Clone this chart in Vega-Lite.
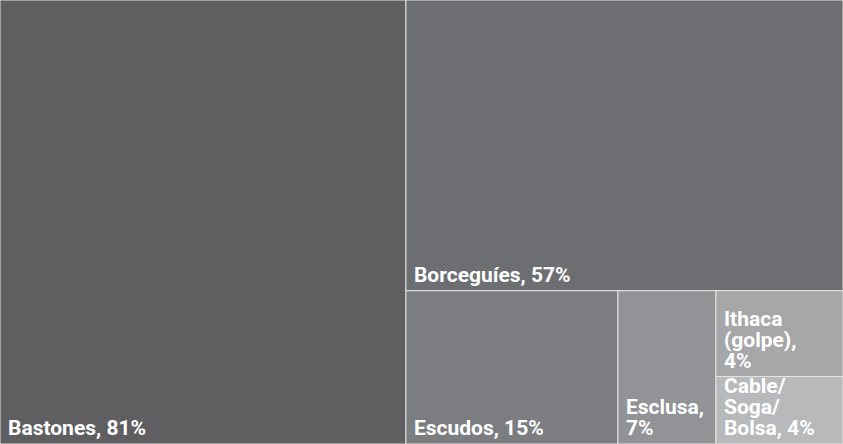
{
  "$schema": "https://vega.github.io/schema/vega-lite/v6.json",
  "width": 843,
  "height": 444,
  "autosize": {"type": "none"},
  "padding": 0,
  "background": "#ffffff",
  "config": {"view": {"stroke": null}},
  "data": {
    "values": [
      {"name": "Bastones", "label": "Bastones, 81%", "size": 81, "col": 1, "band": 1, "sub": 1, "cell": 1},
      {"name": "Borceguíes", "label": "Borceguíes, 57%", "size": 57.1, "col": 2, "band": 1, "sub": 1, "cell": 1},
      {"name": "Escudos", "label": "Escudos, 15%", "size": 14.6, "col": 2, "band": 2, "sub": 1, "cell": 1},
      {"name": "Esclusa", "label": "Esclusa,|7%", "size": 6.75, "col": 2, "band": 2, "sub": 2, "cell": 1},
      {"name": "Ithaca (golpe)", "label": "Ithaca|(golpe),|4%", "size": 4.9, "col": 2, "band": 2, "sub": 3, "cell": 1},
      {"name": "Cable/Soga/Bolsa", "label": "Cable/|Soga/|Bolsa, 4%", "size": 3.85, "col": 2, "band": 2, "sub": 3, "cell": 2}
    ]
  },
  "transform": [
    {"joinaggregate": [{"op": "sum", "field": "size", "as": "total"}]},
    {"joinaggregate": [{"op": "sum", "field": "size", "as": "colsum"}], "groupby": ["col"]},
    {"joinaggregate": [{"op": "sum", "field": "size", "as": "bandsum"}], "groupby": ["col", "band"]},
    {"joinaggregate": [{"op": "sum", "field": "size", "as": "subsum"}], "groupby": ["col", "band", "sub"]},
    {"stack": "size", "groupby": [], "sort": [{"field": "col", "order": "ascending"}, {"field": "band", "order": "ascending"}, {"field": "sub", "order": "ascending"}, {"field": "cell", "order": "ascending"}], "as": ["s0", "s1"]},
    {"joinaggregate": [{"op": "min", "field": "s0", "as": "colstart"}], "groupby": ["col"]},
    {"stack": "size", "groupby": ["col"], "sort": [{"field": "band", "order": "ascending"}, {"field": "sub", "order": "ascending"}, {"field": "cell", "order": "ascending"}], "as": ["b0", "b1"]},
    {"joinaggregate": [{"op": "min", "field": "b0", "as": "bandstart"}], "groupby": ["col", "band"]},
    {"stack": "size", "groupby": ["col", "band"], "sort": [{"field": "sub", "order": "ascending"}, {"field": "cell", "order": "ascending"}], "as": ["c0", "c1"]},
    {"joinaggregate": [{"op": "min", "field": "c0", "as": "substart"}], "groupby": ["col", "band", "sub"]},
    {"stack": "size", "groupby": ["col", "band", "sub"], "sort": [{"field": "cell", "order": "ascending"}], "as": ["d0", "d1"]},
    {"calculate": "(datum.colstart + datum.substart / datum.bandsum * datum.colsum) / datum.total", "as": "x0"},
    {"calculate": "(datum.colstart + (datum.substart + datum.subsum) / datum.bandsum * datum.colsum) / datum.total", "as": "x1"},
    {"calculate": "(datum.bandstart + datum.d0 / datum.subsum * datum.bandsum) / datum.colsum", "as": "y0"},
    {"calculate": "(datum.bandstart + datum.d1 / datum.subsum * datum.bandsum) / datum.colsum", "as": "y1"},
    {"calculate": "join(reverse(split(datum.label, '|')), '|')", "as": "revlabel"}
  ],
  "encoding": {
    "x": {"field": "x0", "type": "quantitative", "axis": null, "scale": {"domain": [0, 1], "nice": false, "zero": false}},
    "y": {"field": "y0", "type": "quantitative", "axis": null, "scale": {"domain": [0, 1], "nice": false, "zero": false, "reverse": true}}
  },
  "layer": [
    {
      "mark": {"type": "rect", "stroke": "#e4e4e4", "strokeWidth": 1},
      "encoding": {
        "x2": {"field": "x1"},
        "y2": {"field": "y1"},
        "color": {
          "field": "name",
          "type": "nominal",
          "legend": null,
          "scale": {
            "domain": ["Bastones", "Borceguíes", "Escudos", "Esclusa", "Ithaca (golpe)", "Cable/Soga/Bolsa"],
            "range": ["#5f5f62", "#6d6e72", "#7c7d81", "#929396", "#a6a7a9", "#b8b9bb"]
          }
        }
      }
    },
    {
      "mark": {"type": "text", "align": "left", "baseline": "alphabetic", "dx": 8, "dy": -9, "lineBreak": "|", "lineHeight": -21, "font": "Roboto", "fontSize": 21, "fontWeight": "bold", "color": "#ffffff"},
      "encoding": {
        "y": {"field": "y1", "type": "quantitative"},
        "text": {"field": "revlabel"}
      }
    }
  ]
}
